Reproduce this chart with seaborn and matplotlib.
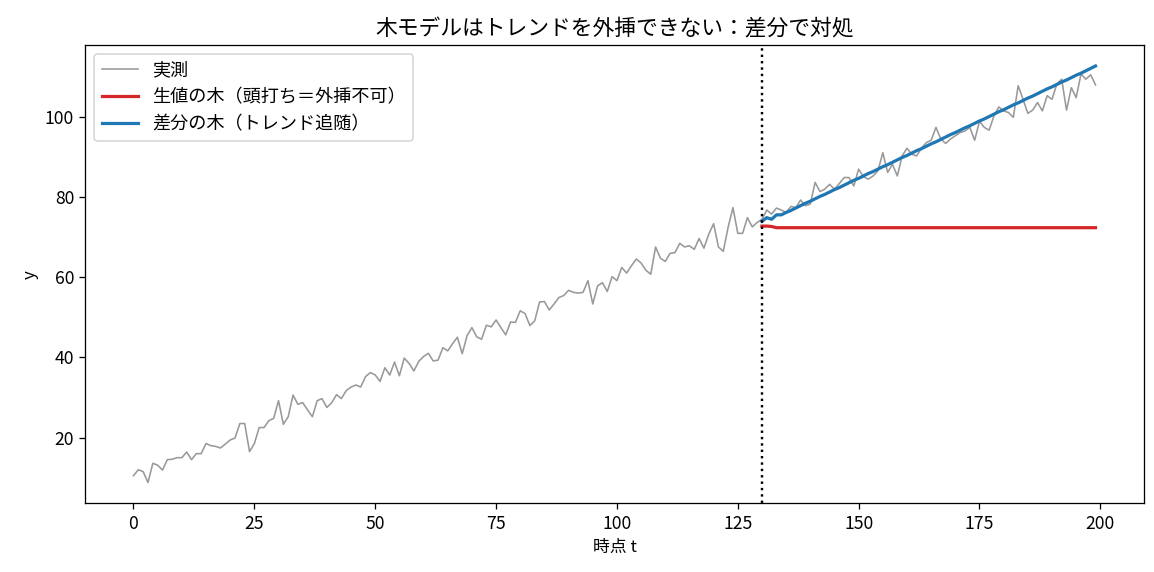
import matplotlib
matplotlib.use("Agg")
import matplotlib.pyplot as plt
import seaborn as sns
import pandas as pd

plt.rcParams['font.family'] = ['Noto Sans CJK JP', 'DejaVu Sans']
plt.rcParams['axes.unicode_minus'] = False

# observed series, t = 0..199
actual = [
    10.5, 12.0, 11.5, 8.8, 13.6, 13.1, 11.9, 14.5, 14.6, 15.0,
    15.0, 16.4, 14.5, 16.0, 16.0, 18.5, 18.0, 17.8, 17.4, 18.4,
    19.4, 19.9, 23.5, 23.5, 16.5, 18.5, 22.5, 22.5, 24.2, 24.8,
    29.2, 23.3, 25.2, 30.6, 28.3, 28.7, 26.9, 25.2, 29.2, 29.7,
    27.5, 28.7, 30.7, 29.7, 31.7, 32.6, 33.1, 32.6, 35.2, 36.2,
    35.6, 34.0, 37.4, 35.6, 38.8, 35.4, 39.8, 38.5, 36.6, 39.0,
    40.2, 41.0, 39.1, 39.3, 42.4, 41.6, 43.4, 45.0, 40.9, 45.4,
    47.4, 45.1, 44.5, 48.0, 47.6, 49.3, 47.4, 45.6, 48.8, 48.7,
    51.6, 50.9, 47.9, 49.1, 53.8, 53.9, 51.8, 53.3, 54.9, 55.4,
    56.7, 56.2, 56.0, 56.2, 59.1, 53.3, 57.8, 58.6, 56.4, 60.1,
    59.1, 62.4, 61.0, 62.8, 64.5, 63.5, 61.7, 60.7, 67.5, 64.7,
    63.9, 65.9, 66.1, 68.4, 67.5, 67.8, 66.9, 69.6, 67.2, 70.7,
    73.3, 67.5, 66.4, 72.4, 77.3, 70.9, 70.9, 74.8, 72.5, 73.6,
    74.4, 76.7, 75.7, 77.2, 76.7, 76.1, 77.6, 77.3, 79.2, 77.8,
    78.2, 83.6, 81.3, 81.9, 83.1, 81.9, 83.3, 84.8, 84.8, 82.7,
    86.9, 85.0, 84.4, 85.2, 86.5, 91.0, 86.1, 88.1, 85.2, 90.2,
    92.1, 90.6, 90.2, 92.1, 93.5, 94.1, 97.3, 94.4, 93.3, 94.4,
    95.2, 96.0, 96.4, 97.3, 94.1, 98.8, 97.3, 96.6, 100.2, 102.4,
    101.4, 101.0, 99.8, 107.7, 104.3, 100.8, 101.6, 103.5, 101.4, 105.2,
    104.3, 108.1, 109.3, 101.6, 107.2, 104.7, 110.6, 109.3, 110.4, 107.9,
]

split_t = 130

# forecasts for t = 130..199
raw_tree = [72.7, 72.7, 72.6] + [72.3] * 67
diff_tree = [
    73.9, 74.8, 74.4, 75.5, 75.5, 76.1, 76.6, 77.2, 77.8, 78.4,
    78.9, 79.5, 80.1, 80.6, 81.2, 81.8, 82.3, 82.9, 83.5, 84.1,
    84.6, 85.2, 85.8, 86.3, 86.9, 87.5, 88.0, 88.6, 89.2, 89.8,
    90.3, 90.9, 91.5, 92.0, 92.6, 93.2, 93.7, 94.3, 94.9, 95.5,
    96.0, 96.6, 97.2, 97.7, 98.3, 98.9, 99.4, 100.0, 100.6, 101.2,
    101.7, 102.3, 102.9, 103.4, 104.0, 104.6, 105.1, 105.7, 106.3, 106.9,
    107.4, 108.0, 108.6, 109.1, 109.7, 110.3, 110.8, 111.4, 112.0, 112.6,
]

df_act = pd.DataFrame({'t': range(len(actual)), 'y': actual})
df_fc = pd.DataFrame({
    't': range(split_t, split_t + len(raw_tree)),
    'raw': raw_tree,
    'diff': diff_tree,
})

fig, ax = plt.subplots(figsize=(10, 4.957), dpi=115.4)

sns.lineplot(data=df_act, x='t', y='y', ax=ax, color='gray', alpha=0.8,
             linewidth=1, label='実測')
sns.lineplot(data=df_fc, x='t', y='raw', ax=ax, color='tab:red',
             linewidth=2, label='生値の木（頭打ち＝外挿不可）')
sns.lineplot(data=df_fc, x='t', y='diff', ax=ax, color='tab:blue',
             linewidth=2, label='差分の木（トレンド追随）')
ax.axvline(split_t, color='black', linestyle=':', linewidth=1.5)

ax.set_title('木モデルはトレンドを外挿できない：差分で対処', fontsize=13.6)
ax.set_xlabel('時点 t', fontsize=10.5)
ax.set_ylabel('y', fontsize=10.5)
ax.tick_params(labelsize=11)
ax.legend(loc='upper left', fontsize=11.3)

fig.subplots_adjust(left=0.074, right=0.991, bottom=0.12, top=0.921)
fig.savefig('out.png')
